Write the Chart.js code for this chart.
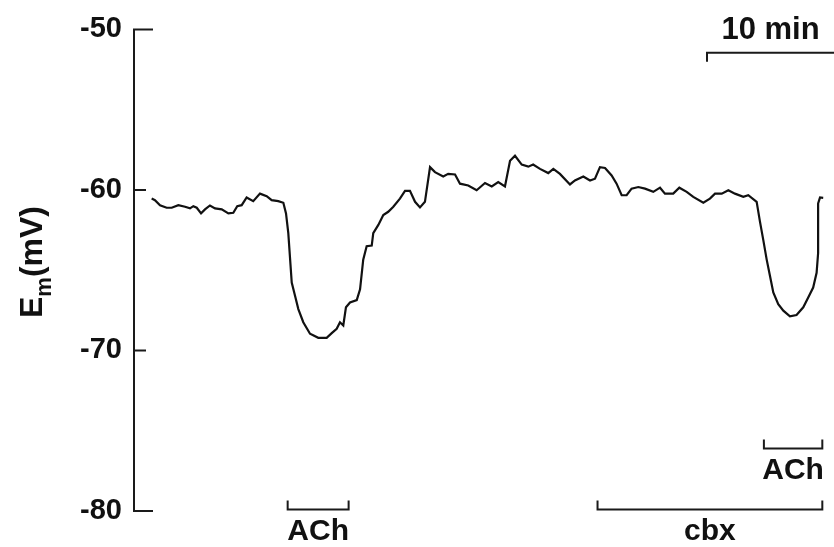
<!DOCTYPE html>
<html>
<head>
<meta charset="utf-8">
<script src="https://cdn.jsdelivr.net/npm/chart.js@4.4.1/dist/chart.umd.min.js"></script>
<style>
  html, body { margin: 0; padding: 0; background: #fff; }
  #wrap { width: 834px; height: 547px; }
</style>
</head>
<body>
<div id="wrap"><canvas id="trace" width="834" height="547"></canvas></div>
<script>
// registro: tiempo (min) y potencial de membrana Em (mV)
const timeMin = [
  1.39, 1.65, 2.05, 2.57, 2.97, 3.49, 4.02, 4.41, 4.67, 4.94, 5.28, 5.59, 5.98, 6.38, 6.91,
  7.43, 7.82, 8.13, 8.48, 8.87, 9.39, 9.92, 10.45, 10.84, 11.36, 11.76, 11.97, 12.15, 12.42,
  12.68, 12.94, 13.33, 13.86, 14.51, 15.17, 15.57, 15.96, 16.22, 16.48, 16.69, 17.01, 17.54,
  17.80, 18.05, 18.32, 18.72, 18.84, 19.24, 19.63, 20.02, 20.42, 20.94, 21.34, 21.73, 22.13,
  22.52, 22.91, 23.31, 23.70, 24.35, 24.74, 25.28, 25.67, 26.32, 26.98, 27.64, 28.17, 28.68,
  29.21, 29.61, 30.00, 30.53, 31.05, 31.43, 31.97, 32.62, 33.02, 33.54, 34.33, 34.72, 35.38,
  35.91, 36.30, 36.69, 37.09, 37.61, 38.00, 38.40, 38.79, 39.18, 39.71, 40.24, 40.89, 41.42,
  41.81, 42.46, 42.94, 43.52, 44.04, 44.83, 45.35, 45.75, 46.28, 46.80, 47.32, 47.98, 48.37,
  49.03, 49.29, 49.55, 49.82, 50.08, 50.34, 50.73, 51.13, 51.65, 52.17, 52.70, 53.09, 53.48,
  53.75, 53.87, 53.87, 53.87, 54.02, 54.27
];
const emMV = [
  -60.54, -60.64, -60.95, -61.11, -61.11, -60.95, -61.05, -61.15, -61.01, -61.11, -61.46, -61.21, -60.97, -61.15, -61.21,
  -61.46, -61.42, -61.01, -60.95, -60.47, -60.70, -60.23, -60.39, -60.64, -60.70, -60.80, -61.46, -62.69, -65.77,
  -66.59, -67.42, -68.24, -68.96, -69.21, -69.21, -68.92, -68.65, -68.24, -68.44, -67.31, -67.01, -66.86,
  -66.19, -64.34, -63.51, -63.47, -62.69, -62.18, -61.56, -61.36, -61.05, -60.54, -60.06, -60.06, -60.74,
  -61.09, -60.74, -58.58, -58.89, -59.16, -59.00, -59.04, -59.61, -59.72, -60.02, -59.57, -59.78, -59.51,
  -59.78, -58.18, -57.87, -58.42, -58.55, -58.42, -58.69, -58.95, -58.69, -59.00, -59.66, -59.41, -59.16,
  -59.41, -59.30, -58.58, -58.63, -59.10, -59.61, -60.33, -60.33, -59.92, -59.82, -59.92, -60.12, -59.86,
  -60.23, -60.23, -59.86, -60.12, -60.43, -60.80, -60.54, -60.23, -60.23, -60.02, -60.23, -60.43, -60.33,
  -60.74, -61.97, -63.11, -64.34, -65.36, -66.39, -67.11, -67.52, -67.87, -67.79, -67.31, -66.70, -66.08,
  -65.16, -63.93, -62.28, -60.84, -60.47, -60.49
];
const yTicks = [-80, -70, -60, -50];
const achPeriods = [[12.1, 16.9], [49.6, 54.2]];
const cbxPeriod = [36.5, 54.2];
const scaleBarMin = 10;

const puntos = timeMin.map((t, i) => ({ x: t, y: emMV[i] }));
const fuente = '"Liberation Sans", Arial, sans-serif';

// eje Y con marcas hacia dentro, corchetes de fármacos y barra de escala
const anotaciones = {
  id: 'anotaciones',
  afterDraw(chart) {
    const ctx = chart.ctx;
    const xs = chart.scales.x, ys = chart.scales.y;
    const left = chart.chartArea.left;
    ctx.save();
    ctx.strokeStyle = '#1a1a1a';
    ctx.lineWidth = 2;
    ctx.lineCap = 'square';
    ctx.beginPath();
    ctx.moveTo(left, ys.getPixelForValue(-50));
    ctx.lineTo(left, ys.getPixelForValue(-80));
    yTicks.forEach(v => {
      const py = ys.getPixelForValue(v);
      const len = (v === -50 || v === -80) ? 18 : 11;
      ctx.moveTo(left, py);
      ctx.lineTo(left + len, py);
    });
    ctx.stroke();

    ctx.fillStyle = '#111';
    ctx.font = 'bold 30px ' + fuente;
    ctx.textAlign = 'center';
    ctx.textBaseline = 'middle';

    function corchete(t0, t1, v, texto) {
      const a = xs.getPixelForValue(t0), b = xs.getPixelForValue(t1);
      const py = ys.getPixelForValue(v);
      ctx.beginPath();
      ctx.moveTo(a, py - 8);
      ctx.lineTo(a, py);
      ctx.lineTo(b, py);
      ctx.lineTo(b, py - 8);
      ctx.stroke();
      ctx.fillText(texto, (a + b) / 2, py + 22);
    }
    corchete(achPeriods[0][0], achPeriods[0][1], -79.9, 'ACh');
    corchete(cbxPeriod[0], cbxPeriod[1], -79.9, 'cbx');
    corchete(achPeriods[1][0], achPeriods[1][1], -76.1, 'ACh');

    // barra de escala de 10 min
    const xmax = xs.max;
    const a = xs.getPixelForValue(xmax - scaleBarMin), b = xs.getPixelForValue(xmax);
    const py = ys.getPixelForValue(-51.45);
    ctx.beginPath();
    ctx.moveTo(a, py + 8);
    ctx.lineTo(a, py);
    ctx.lineTo(b + 2, py);
    ctx.stroke();
    ctx.font = 'bold 31px ' + fuente;
    ctx.fillText(scaleBarMin + ' min', (a + b) / 2, py - 22);

    // título del eje: E subíndice m (mV)
    ctx.translate(42, 262);
    ctx.rotate(-Math.PI / 2);
    ctx.textAlign = 'left';
    ctx.textBaseline = 'alphabetic';
    const fGrande = 'bold 32px ' + fuente, fSub = 'bold 22px ' + fuente;
    ctx.font = fGrande;
    const wE = ctx.measureText('E').width, wP = ctx.measureText('(mV)').width;
    ctx.font = fSub;
    const wM = ctx.measureText('m').width;
    let u = -(wE + wM + wP) / 2;
    ctx.font = fGrande;
    ctx.fillText('E', u, 0);
    u += wE;
    ctx.font = fSub;
    ctx.fillText('m', u, 9);
    u += wM;
    ctx.font = fGrande;
    ctx.fillText('(mV)', u, 0);
    ctx.restore();
  }
};

const ctx = document.getElementById('trace').getContext('2d');
const grafico = new Chart(ctx, {
  type: 'line',
  data: {
    datasets: [{
      data: puntos,
      borderColor: '#111',
      borderWidth: 2.2,
      pointRadius: 0,
      tension: 0,
      fill: false
    }]
  },
  options: {
    responsive: false,
    animation: false,
    devicePixelRatio: 1,
    layout: { padding: { top: 24, bottom: 36, left: 0, right: 0 } },
    plugins: { legend: { display: false }, tooltip: { enabled: false } },
    scales: {
      x: {
        type: 'linear',
        min: 0,
        max: 55.12,
        display: false
      },
      y: {
        min: -80,
        max: -50,
        afterFit(scale) { scale.width = 134; },
        grid: { display: false, drawTicks: false },
        border: { display: false },
        ticks: {
          stepSize: 10,
          padding: 12,
          color: '#111',
          font: { family: fuente, size: 29, weight: 'bold' }
        }
      }
    }
  },
  plugins: [anotaciones]
});
</script>
</body>
</html>
